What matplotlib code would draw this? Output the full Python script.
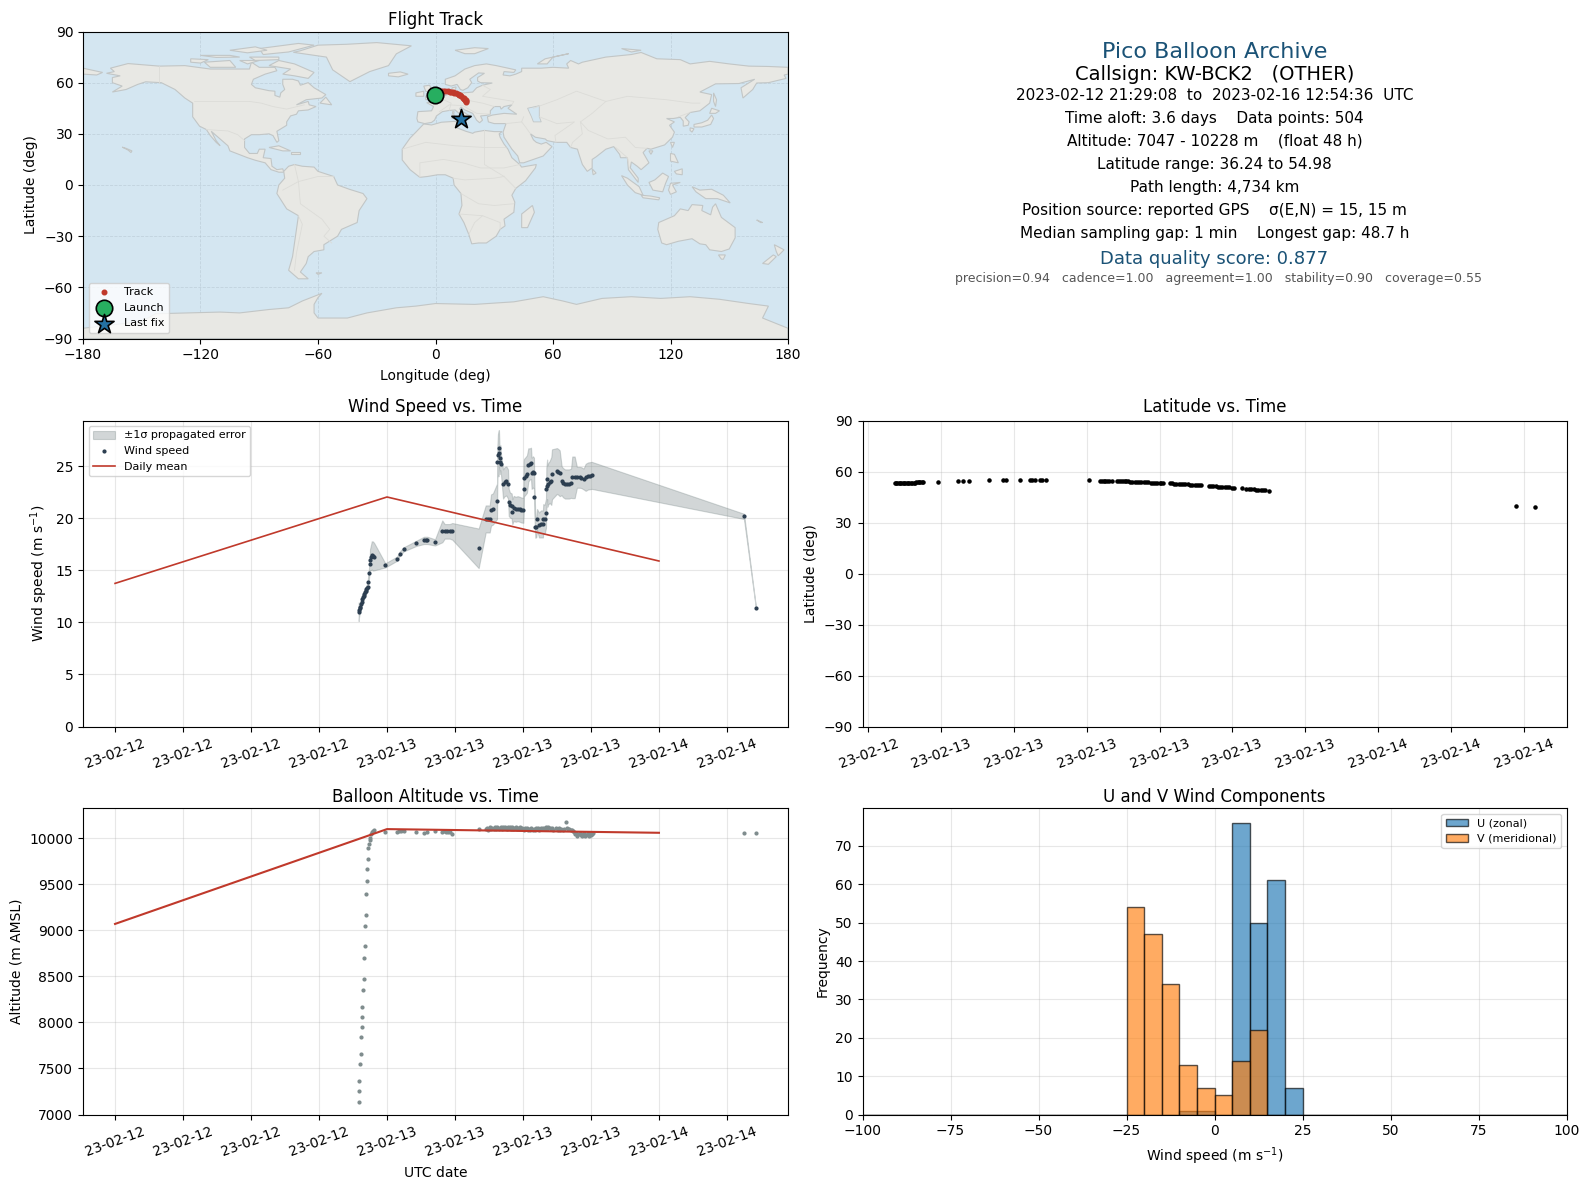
#Pico balloon flight summary: map, text panel, wind, latitude, altitude, histogram
from datetime import datetime

import matplotlib
matplotlib.use("Agg")
import matplotlib.dates as mdates
import matplotlib.pyplot as plt
import numpy as np

#---- DATA -------------------------------------------------------------------
#all times are hours after 2023-02-13 00:00 UTC
wind_hours = [-2.5, -2.47, -2.41, -2.35, -2.29, -2.24, -2.21, -2.12, -2.06, -2.0, -1.94, -1.88, -1.82, -1.76, -1.71,
              -1.68, -1.59, -1.52, -1.5, -1.38, -1.35, -1.24, -1.12, -0.15, 0.88, 1.12, 1.47, 2.59, 3.26, 3.41, 3.56,
              4.24, 4.88, 5.09, 5.29, 5.53, 5.76, 8.09, 8.71, 8.88, 9.06, 9.18, 9.35, 9.71, 9.74, 9.79, 9.85, 9.88,
              9.94, 10.0, 10.06, 10.24, 10.38, 10.53, 10.68, 10.74, 10.85, 11.0, 11.06, 11.18, 11.35, 11.53, 11.71,
              11.85, 12.03, 12.06, 12.09, 12.24, 12.35, 12.47, 12.59, 12.71, 12.76, 12.88, 12.97, 13.0, 13.09, 13.18,
              13.24, 13.41, 13.59, 13.76, 13.79, 13.91, 14.03, 14.06, 14.13, 14.15, 14.21, 14.35, 14.5, 14.56, 15.0,
              15.12, 15.24, 15.41, 15.53, 15.71, 15.88, 16.06, 16.24, 16.35, 16.56, 16.76, 17.0, 17.15, 17.35, 17.53,
              17.74, 17.94, 18.06, 31.5, 32.56]
wind_speed = [11.03, 11.19, 11.35, 11.5, 11.73, 11.99, 12.21, 12.4, 12.53, 12.72, 12.88, 13.01, 13.17, 13.27, 13.37,
              13.85, 14.71, 15.58, 16.03, 16.31, 16.44, 16.38, 16.31, 15.48, 16.12, 16.6, 17.02, 17.6, 17.88, 17.88,
              17.88, 17.69, 18.75, 18.75, 18.75, 18.75, 18.75, 17.12, 19.94, 19.94, 19.94, 20.8, 20.9, 21.63, 25.45,
              26.09, 26.25, 26.73, 25.45, 25.83, 25.19, 23.3, 23.53, 23.59, 23.3, 21.54, 21.28, 21.19, 20.64, 20.96,
              20.87, 20.93, 20.87, 20.8, 20.77, 22.85, 23.91, 24.1, 24.26, 25.13, 25.22, 25.29, 24.33, 24.46, 24.33,
              22.02, 19.13, 19.2, 19.9, 19.36, 19.46, 19.46, 19.97, 19.9, 20.48, 22.85, 23.75, 23.11, 23.3, 23.49,
              23.59, 24.23, 24.55, 24.46, 24.33, 23.62, 23.43, 23.3, 23.3, 23.3, 23.37, 23.94, 23.94, 23.94, 23.94,
              23.91, 23.78, 23.94, 24.07, 24.1, 24.13, 20.19, 11.41]
wind_err = [0.9, 0.7, 0.5, 0.45, 0.4, 0.4, 0.4, 0.4, 0.4, 0.4, 0.4, 0.4, 0.4, 0.4, 0.4,
            0.4, 0.5, 0.6, 1.0, 1.3, 1.35, 1.4, 1.3, 0.2, 0.2, 0.2, 0.2, 0.25, 0.35, 0.35,
            0.35, 0.3, 1.05, 0.7, 0.7, 0.7, 0.8, 1.9, 1.3, 1.3, 1.3, 1.5, 1.5, 1.7, 1.5,
            2.0, 2.2, 1.75, 1.2, 1.2, 1.0, 1.4, 1.4, 1.4, 1.4, 1.3, 1.2, 1.2, 1.2, 1.2,
            1.2, 1.2, 1.2, 1.2, 1.2, 2.6, 1.8, 1.8, 1.8, 1.6, 1.5, 1.5, 1.5, 1.5, 1.5,
            1.5, 1.0, 1.0, 1.0, 1.2, 1.3, 1.3, 1.4, 1.4, 1.4, 2.0, 1.9, 2.0, 2.0, 2.0,
            2.3, 2.4, 2.2, 2.2, 2.2, 1.4, 1.4, 1.4, 1.4, 1.4, 1.4, 2.0, 2.0, 1.0, 1.0,
            1.0, 1.0, 1.3, 1.3, 1.3, 1.3, 0.25, 0.05]

daily_hours = [-24, 0, 24]
daily_wind = [13.75, 22.05, 15.9]
daily_alt = [9070, 10100, 10060]

lat_hours = [-2.57, -2.5, -2.42, -2.35, -2.27, -2.2, -2.12, -2.05, -1.97, -1.9, -1.82, -1.75, -1.67, -1.6, -1.52,
             -1.45, -1.37, -1.3, -1.22, -1.15, -1.07, -0.98, -0.17, 0.93, 1.2, 1.54, 2.6, 3.37, 3.56, 4.32, 4.87,
             5.0, 5.15, 5.4, 5.55, 5.75, 8.12, 8.72, 8.82, 8.92, 9.02, 9.12, 9.22, 9.38, 9.67, 9.77, 9.87, 9.97,
             10.07, 10.17, 10.27, 10.37, 10.5, 10.62, 10.75, 10.87, 11.0, 11.12, 11.25, 11.37, 11.5, 11.62, 11.75,
             11.87, 12.0, 12.1, 12.2, 12.55, 12.67, 12.8, 12.92, 13.05, 13.17, 13.3, 13.42, 13.55, 13.67, 13.8,
             13.92, 14.05, 14.17, 14.3, 14.7, 14.82, 14.95, 15.07, 15.2, 15.32, 15.45, 15.57, 15.7, 15.82, 15.95,
             16.1, 16.5, 16.72, 16.9, 17.03, 17.16, 17.3, 17.43, 17.55, 17.68, 17.8, 18.0, 31.59, 32.6]
lat_values = [53.1, 53.1, 53.1, 53.1, 53.1, 53.1, 53.1, 53.1, 53.1, 53.1, 53.2, 53.2, 53.2, 53.2, 53.3,
              53.4, 53.6, 53.7, 53.7, 53.7, 53.7, 53.7, 53.7, 54.3, 54.3, 54.3, 54.9, 54.9, 54.9, 54.9, 54.9,
              54.9, 54.9, 54.9, 54.9, 54.9, 54.9, 54.3, 54.3, 54.3, 54.3, 54.3, 54.3, 54.3, 54.3, 54.3, 54.3, 54.3,
              54.3, 54.2, 54.2, 54.1, 54.0, 54.0, 53.9, 53.8, 53.7, 53.7, 53.6, 53.6, 53.5, 53.4, 53.4,
              53.3, 53.2, 53.1, 53.1, 53.1, 53.0, 52.9, 52.8, 52.7, 52.6, 52.6, 52.5, 52.4, 52.3, 52.2,
              52.1, 52.0, 51.9, 51.9, 51.6, 51.6, 51.4, 51.3, 51.1, 51.0, 50.8, 50.7, 50.6, 50.6, 50.4,
              50.3, 50.3, 49.7, 49.6, 49.5, 49.5, 49.4, 49.4, 49.3, 49.3, 49.3, 48.8, 39.5, 38.9]

alt_hours = [-2.47, -2.47, -2.47, -2.38, -2.29, -2.29, -2.21, -2.21, -2.21, -2.12, -2.03, -2.03, -1.94, -1.94, -1.85,
             -1.85, -1.76, -1.76, -1.68, -1.68, -1.59, -1.5, -1.5, -1.41, -1.32, -1.24, -1.15, -0.18, 0.88, 1.06,
             1.24, 1.5, 2.56, 3.26, 3.53, 4.24, 4.85, 5.03, 5.21, 5.38, 5.56, 5.74, 8.09, 8.71, 8.82, 8.9, 9.0,
             9.1, 9.2, 9.3, 9.42, 9.52, 9.64, 9.75, 9.85, 9.95, 10.05, 10.15, 10.25, 10.35, 10.45, 10.55, 10.65,
             10.75, 10.85, 10.95, 11.05, 11.15, 11.25, 11.35, 11.45, 11.55, 11.65, 11.75, 11.85, 11.95, 12.05,
             12.15, 12.25, 12.35, 12.45, 12.55, 12.65, 12.75, 12.85, 12.95, 13.05, 13.15, 13.25, 13.35, 13.45,
             13.55, 13.65, 13.75, 13.85, 13.95, 14.05, 14.15, 14.25, 14.35, 14.45, 14.55, 14.65, 14.95, 15.05,
             15.15, 15.25, 15.35, 15.5, 15.65, 15.79, 15.9, 16.0, 16.1, 16.2, 16.3, 16.4, 16.5, 16.6, 16.7, 16.8,
             16.9, 17.0, 17.1, 17.2, 17.3, 17.4, 17.5, 17.6, 17.7, 17.8, 17.9, 18.0, 18.1, 18.2, 31.5, 32.56]
alt_values = [7141, 7250, 7359, 7544, 7652, 7837, 7946, 8054, 8163, 8348, 8467, 8696, 8826, 9043, 9163,
              9391, 9533, 9663, 9772, 9891, 9935, 9978, 10000, 10043, 10065, 10076, 10087, 10065, 10065, 10076,
              10080, 10076, 10065, 10054, 10065, 10076, 10065, 10076, 10065, 10065, 10065, 10043, 10101, 10098, 10110, 10095, 10105,
              10120, 10100, 10115, 10098, 10125, 10105, 10118, 10100, 10112, 10122, 10102, 10118, 10110, 10124, 10104, 10120,
              10108, 10125, 10105, 10118, 10100, 10115, 10122, 10102, 10112, 10105, 10118, 10100, 10112, 10095,
              10108, 10098, 10112, 10092, 10105, 10095, 10110, 10094, 10104, 10092, 10108, 10096, 10112, 10095,
              10108, 10098, 10112, 10100, 10115, 10120, 10105, 10118, 10115, 10100, 10110, 10095, 10110, 10095,
              10108, 10088, 10100, 10090, 10105, 10172, 10110, 10098, 10105, 10085, 10095, 10075, 10065, 10045, 10055, 10030,
              10050, 10060, 10035, 10025, 10050, 10060, 10020, 10040, 10055, 10030, 10060, 10035, 10050, 10060, 10054, 10054]

#histogram counts per 5 m/s bin
bin_edges = list(range(-100, 105, 5))
u_bins = [-7.5, -2.5, 2.5, 7.5, 12.5, 17.5, 22.5]
u_counts = [1, 1, 0, 76, 50, 61, 7]
v_bins = [-22.5, -17.5, -12.5, -7.5, -2.5, 2.5, 7.5, 12.5]
v_counts = [54, 47, 34, 13, 7, 5, 14, 22]

track_lon = [2.0, 3.0, 3.8, 5.0, 6.2, 7.3, 8.1, 8.9, 9.7, 10.5, 11.3, 11.9, 12.6, 13.2, 13.9, 14.3, 14.7, 15.1, 15.4, 15.6, 15.8]
track_lat = [55.2, 55.1, 55.1, 55.0, 54.9, 54.8, 54.7, 54.5, 54.2, 53.8, 53.3, 53.0, 52.5, 51.9, 51.2, 50.8, 50.4, 50.0, 49.6, 49.2, 48.8]
launch_lon, launch_lat = -0.4, 53.0
last_lon, last_lat = 13.2, 38.9

#land polygons (lon, lat)
north_america = [(-168, 65.5), (-164, 66.5), (-166, 68.5), (-157, 71.2), (-141, 69.7), (-128, 70), (-115, 68), (-108, 68),
                 (-95, 68), (-94, 72), (-90, 69), (-82, 69), (-81, 67), (-87, 65), (-93, 62), (-94, 59), (-92, 57), (-85, 55.3),
                 (-82, 55), (-82, 52.5), (-79.5, 51.5), (-79, 54), (-77, 56), (-78, 59), (-78, 62), (-73, 62), (-70, 61),
                 (-69, 58.5), (-65, 60), (-62, 57), (-56, 53), (-58, 51), (-66, 50), (-71, 47), (-65, 49), (-64.5, 47),
                 (-61, 46), (-65, 44), (-70, 43.5), (-71, 41.5), (-74, 40.5), (-76, 37), (-76, 35), (-81, 31.5), (-80, 26),
                 (-81, 25), (-83, 29), (-85, 30), (-90, 29.5), (-94, 29.5), (-97.5, 27), (-97.5, 22), (-95, 18.5), (-91, 18.5),
                 (-90, 21), (-87, 21), (-88, 16), (-84, 15.5), (-83.5, 11), (-81, 9), (-78, 9.5), (-77.5, 7.5), (-80, 7.5),
                 (-84, 9), (-87, 13), (-92, 14.5), (-96, 16), (-105, 20), (-106, 23), (-112, 29), (-114.5, 31.5), (-112, 26),
                 (-110, 23), (-112, 25), (-115, 29), (-117, 32.5), (-120.5, 34.5), (-124, 40), (-124, 48), (-128, 51),
                 (-133, 56), (-140, 60), (-148, 60.5), (-152, 59), (-158, 56), (-165, 54.5), (-160, 58), (-165, 60),
                 (-165, 63), (-161, 64), (-168, 65.5)]
south_america = [(-77.5, 8), (-75, 11), (-72, 12), (-68, 11), (-62, 10.5), (-60, 8), (-52, 5), (-50, 0), (-44, -2.5), (-37, -5),
                 (-35, -8), (-39, -15), (-40, -22), (-48, -26), (-50, -30), (-57, -35), (-57, -38), (-62, -39), (-65, -42),
                 (-66, -46), (-69, -51), (-65, -55), (-70, -55), (-75, -50), (-73, -42), (-71.5, -30), (-70, -18), (-76, -14),
                 (-81, -5), (-80, 0), (-77, 4), (-77.5, 8)]
africa = [(-6, 35.8), (-10, 31), (-13, 27.5), (-17, 21), (-17, 14.7), (-13, 9), (-8, 4.5), (-4, 5), (1, 6), (5, 6), (9, 4), (9.5, 0),
          (13, -5), (13.5, -12), (12, -17), (14.5, -22), (17, -29), (18.5, -34.5), (22, -34), (26, -34), (31, -30), (33, -26),
          (35.5, -24), (35, -20), (40, -16), (40.5, -10), (39, -6), (41, -2), (46, 2.5), (51, 10), (51.5, 12), (44, 10.5), (43, 12),
          (39, 16), (37, 21), (35, 24), (33, 28), (32.5, 30), (34, 31.3), (30, 31.3), (25, 32), (20, 31), (19, 30.3), (15.5, 31.5),
          (11, 33.5), (11, 37), (9.5, 37.3), (3, 36.8), (-2, 35.2), (-6, 35.8)]
eurasia = [(-9, 37), (-9.5, 39), (-9, 43), (-2, 43.5), (-1, 46), (-4.5, 48.3), (-1.5, 48.7), (1.5, 50.5), (4, 52), (8, 54), (8.5, 57),
           (10.5, 57.5), (10, 54.5), (14, 54), (19, 54.5), (21, 57), (24, 58.5), (29, 59.8), (23, 60), (21.5, 61), (21.5, 63), (25, 65.5),
           (22, 65.7), (17.5, 62), (18.5, 60), (16.5, 57), (14, 55.5), (12.7, 56), (11, 59), (8, 58), (5, 59), (5, 62), (10, 64), (15, 68),
           (20, 70), (26, 71), (31, 70), (41, 67.5), (40, 66), (35, 66.5), (34.5, 64.5), (38, 64), (41, 65), (44, 66.5), (44, 68.5), (54, 68.5),
           (60, 69), (68, 68.5), (67, 71), (69, 73), (73, 71), (75, 72), (81, 73.5), (87, 75), (100, 76.5), (105, 77.7), (113, 74), (125, 73.5),
           (130, 71), (140, 72.5), (150, 71), (160, 69.7), (170, 69.5), (180, 69), (180, 65), (178, 64.5), (179, 62.5), (170, 60), (164, 59.8),
           (162, 56), (157, 51), (156, 57), (163, 62), (155, 59.5), (143, 59.3), (135, 54.5), (141, 53), (140, 48), (135, 43.5), (130, 42.5),
           (127.5, 39.5), (129.5, 37), (129, 35), (126.5, 34.5), (126.5, 37.5), (125, 39.7), (121.5, 39), (118, 39), (122, 37), (119.5, 35),
           (122, 31), (121, 28), (117, 23.5), (110, 21), (108, 21.5), (106, 19), (109, 13), (105, 9), (103, 11), (100, 13.5), (99.5, 10),
           (103.5, 4), (103.5, 1.5), (100.5, 6), (98.5, 9), (98, 16), (94.5, 16), (94, 18), (91, 22.5), (87, 21), (82, 16.5), (80, 15), (80, 10),
           (77.5, 8), (75, 12), (73, 19), (72.5, 21), (69, 22), (67, 25), (61.5, 25), (57, 26), (56, 27), (51, 28), (48.5, 30), (50, 26.5),
           (51.5, 25), (54, 24), (56.5, 25), (59.5, 22.5), (55, 17), (45, 13), (43, 13), (42, 17), (39, 21), (35, 28), (34.5, 31), (36, 36),
           (33, 36), (30, 36), (27, 37), (26.5, 40), (29, 41), (35, 42), (41.5, 41.5), (37, 45), (39, 47), (35, 46), (33.5, 44.5), (33, 46),
           (30, 46), (28, 43.5), (28, 41.5), (26, 40.8), (23, 40.5), (24, 38), (22.5, 36.5), (21, 38), (19.5, 41), (19, 42), (15, 44), (13, 45.7),
           (12.3, 44.5), (16, 41.5), (18.5, 40), (16.5, 39.5), (16, 38), (15.5, 40), (12, 42), (10, 44), (7, 43.7), (3.5, 43), (0.5, 40.5),
           (-0.5, 38), (-2, 36.7), (-5.5, 36), (-9, 37)]
australia = [(114, -22), (113.5, -26), (115.5, -34), (118, -35), (124, -33), (131, -31.5), (135, -34.5), (138, -35), (140, -38), (146, -39),
             (150, -37.5), (153, -31), (153, -25), (146, -19), (143, -11), (141.5, -13), (140.5, -17.5), (136, -15), (136.5, -12), (131, -11.5),
             (129, -15), (125, -14), (122, -18), (114, -22)]
greenland = [(-72.6, 77.8), (-69.3, 78.6), (-60, 82), (-45.5, 82.5), (-30, 83.5), (-12.3, 81.6), (-20, 76.9), (-24, 70), (-33.6, 66.5),
             (-43.7, 60.6), (-52.5, 67.5), (-55.7, 75), (-72.6, 77.8)]
antarctica = [(-180, -84), (-150, -80), (-143, -75.5), (-110, -74.5), (-100, -75), (-85, -73), (-75, -72), (-68, -68), (-58, -63.5), (-60, -66),
              (-62, -70), (-62, -75), (-60, -78), (-45, -78), (-35, -75), (-20, -72), (-10, -71), (0, -69.5), (20, -70), (40, -68.5), (55, -65.5),
              (65, -68), (72, -70), (85, -66.5), (100, -65.5), (115, -66.5), (130, -65.5), (145, -67), (160, -69.5), (170, -71), (167, -78),
              (180, -84), (180, -90), (-180, -90)]
islands = [
    [(-80, 73), (-72, 71), (-62, 66), (-65, 62.5), (-72, 64), (-78, 65), (-74, 68), (-85, 70), (-80, 73)],  #Baffin
    [(-118, 72), (-105, 73), (-102, 69), (-115, 69), (-118, 72)],  #Victoria
    [(-125, 74), (-116, 73.5), (-120, 71.5), (-125, 72), (-125, 74)],  #Banks
    [(-90, 80), (-70, 83), (-62, 82), (-75, 78), (-88, 76.5), (-90, 80)],  #Ellesmere
    [(-120, 76), (-105, 76), (-100, 75), (-112, 74.8), (-120, 76)],
    [(-95, 75), (-80, 75), (-80, 73.5), (-92, 73), (-95, 75)],
    [(-100, 73), (-90, 73), (-96, 71), (-100, 73)],
    [(-105, 79), (-92, 81), (-86, 79), (-96, 77.5), (-105, 79)],
    [(-59, 48), (-56, 51.5), (-53, 47), (-59, 48)],  #Newfoundland
    [(-85, 22), (-80, 23), (-74, 20), (-78, 20), (-85, 22)],  #Cuba
    [(-74, 19.5), (-69, 19.5), (-69, 18), (-74, 18), (-74, 19.5)],
    [(-160, 22.2), (-158, 21.5), (-155, 20), (-155.5, 19), (-157, 20.5), (-160, 22.2)],  #Hawaii
    [(-24, 65.5), (-18, 66.3), (-14, 65), (-19, 63.4), (-24, 64), (-24, 65.5)],  #Iceland
    [(-5, 50), (1, 51), (1, 53), (-2, 56), (-3, 58.5), (-6, 58), (-5, 55), (-3, 54), (-5, 52), (-5, 50)],  #Britain
    [(-10, 52), (-6, 52), (-6, 55), (-10, 54), (-10, 52)],  #Ireland
    [(10, 79), (20, 80.5), (27, 80), (20, 77), (15, 77), (10, 79)],  #Svalbard
    [(52, 71), (56, 74), (68, 77), (60, 75), (57, 71), (52, 71)],  #Novaya Zemlya
    [(95, 80), (105, 79), (100, 78), (95, 80)],
    [(-180, 68.5), (-170, 66), (-173, 64.5), (-180, 65), (-180, 68.5)],  #Chukotka over the date line
    [(142, 54), (143.5, 50), (143, 46), (142, 49), (142, 54)],  #Sakhalin
    [(141, 45), (145, 43.5), (143, 42), (140, 42), (141, 45)],  #Hokkaido
    [(141, 41), (142, 39), (140.5, 35.5), (136, 34), (132, 34), (132, 35.5), (136, 36.5), (139, 38), (141, 41)],  #Honshu
    [(130, 33.5), (132, 33), (131, 31), (130, 32), (130, 33.5)],
    [(120, 25), (122, 25), (121, 22), (120, 25)],  #Taiwan
    [(109, 20), (111, 20), (110, 18), (109, 20)],
    [(80, 9.5), (82, 7), (80.5, 6), (80, 9.5)],  #Sri Lanka
    [(49.5, -12), (50.5, -16), (47, -25), (44, -25), (44, -17), (49.5, -12)],  #Madagascar
    [(95, 5.5), (98, 4), (104, -1), (106, -6), (102, -4.5), (98, 0), (95, 5.5)],  #Sumatra
    [(105, -6), (110, -6.5), (114.5, -7.5), (114, -8.7), (106, -7.5), (105, -6)],  #Java
    [(109, 1.5), (112, 3), (116, 7), (119, 5), (117.5, 1), (116, -4), (111, -3), (109, 1.5)],  #Borneo
    [(120, 1), (125, 1.5), (121, 0), (123, -4), (120, -5.5), (119, -3), (120, 1)],  #Sulawesi
    [(131, -1), (135, -3), (141, -2.5), (147, -6), (150.5, -10.5), (144, -8), (138, -8), (133, -4), (131, -1)],  #New Guinea
    [(120, 18.5), (122, 18), (124, 13), (120, 14), (120, 18.5)],  #Luzon
    [(122, 8), (126, 9.5), (126, 6), (123, 6.5), (122, 8)],
    [(144.5, -41), (148, -41), (147, -43.5), (146, -43.5), (144.5, -41)],  #Tasmania
    [(173, -35), (178, -38), (175, -41.5), (174, -39), (173, -35)],
    [(172.5, -41), (174, -42), (170, -46.5), (167, -46), (172.5, -41)],
    [(164, -20.5), (167, -22), (166, -22), (164, -20.5)],
    [(-61, -51.5), (-58, -51.5), (-60, -52.4), (-61, -51.5)],  #Falkland
    [(12.5, 38), (15.5, 38), (15, 36.7), (12.5, 38)],
    [(8.3, 41), (9.7, 41), (9.5, 39), (8.5, 39), (8.3, 41)],
    [(8.7, 43), (9.5, 43), (9.3, 41.5), (8.7, 42), (8.7, 43)],
]
#inland water painted on top of the land
lakes = [
    [(47, 45), (53, 46.5), (53, 40), (54, 37), (50, 37), (49, 40), (47, 45)],  #Caspian
]
#a few thin political borders
borders = [
    [(-123, 49), (-95, 49), (-89, 48), (-83, 46), (-76, 44.5), (-67, 47)],
    [(-141, 69.7), (-141, 60)],
    [(-117, 32.5), (-106, 31.7), (-101, 29.5), (-97.5, 26)],
    [(-72, 12), (-70, 2), (-69, -11), (-58, -20), (-54, -26), (-57, -30), (-53, -34)],
    [(-52, 5), (-60, 5), (-70, 2), (-78, -3)],
    [(-70, -18), (-68, -23), (-71, -40), (-72, -50)],
    [(-17, 21), (-5, 25), (10, 23), (25, 22), (36, 22)],
    [(25, 32), (25, 12), (35, 5), (41, -2)],
    [(-8, 4.5), (-8, 13), (4, 15), (14, 13), (23, 10), (35, 10), (43, 12)],
    [(9, 4), (15, 3), (30, 4), (35, 5)],
    [(13, -5), (22, -11), (30, -12), (40, -11)],
    [(12, -17), (24, -18), (33, -22), (33, -26)],
    [(17, -29), (20, -22), (24, -18)],
    [(2, 51), (8, 48), (7, 43.7)],
    [(14, 54), (15, 50), (24, 48), (30, 46)],
    [(28, 41.5), (21, 42), (14, 46.5), (7, 47), (2, 43)],
    [(24, 58.5), (28, 56), (24, 52), (40, 49), (39, 47)],
    [(50, 45), (62, 50), (72, 55), (87, 49), (98, 52), (118, 50), (131, 48), (135, 48)],
    [(87, 49), (80, 42), (74, 37), (78, 32), (88, 27), (97, 28), (102, 22), (108, 21.5)],
    [(53, 40), (62, 36), (71, 37), (61, 29), (61.5, 25)],
    [(74, 37), (75, 30), (70, 25), (69, 22)],
    [(44, 37), (46, 34), (48.5, 30)],
    [(36, 36), (44, 37), (45, 40)],
    [(92, 22), (98, 16), (99, 10)],
    [(130, 42.5), (124, 40)],
]

title_lines = [
    ("Pico Balloon Archive", 16, "#1a5276", 1215, 51.5),
    ("Callsign: KW-BCK2   (OTHER)", 14, "black", 1215, 74.5),
    ("2023-02-12 21:29:08  to  2023-02-16 12:54:36  UTC", 11, "black", 1215, 95.5),
    ("Time aloft: 3.6 days    Data points: 504", 11, "black", 1214.5, 118.5),
    ("Altitude: 7047 - 10228 m    (float 48 h)", 11, "black", 1214.5, 141),
    ("Latitude range: 36.24 to 54.98", 11, "black", 1214.5, 164.5),
    ("Path length: 4,734 km", 11, "black", 1215, 187.5),
    ("Position source: reported GPS    \u03c3(E,N) = 15, 15 m", 11, "black", 1214, 210.5),
    ("Median sampling gap: 1 min    Longest gap: 48.7 h", 11, "black", 1215, 233.5),
    ("Data quality score: 0.877", 13, "#1a5276", 1214.5, 258.5),
    ("precision=0.94   cadence=1.00   agreement=1.00   stability=0.90   coverage=0.55", 9, "#555555", 1218.5, 278.5),
]

#---- COLOURS ----------------------------------------------------------------
NAVY = "#2c3e50"
RED = "#c0392b"
GREY = "#7f8c8d"
OCEAN = "#d4e6f1"
W, H = 1589, 1189


def make_axes(left, top, right, bottom):
    #axes from pixel edges of the picture
    ax = fig.add_axes([left / W, 1 - bottom / H, (right - left) / W, (bottom - top) / H])
    ax.grid(True, color="#b0b0b0", alpha=0.3, linewidth=0.8)
    ax.set_axisbelow(True)
    return ax


def to_dates(hours):
    base = mdates.date2num(datetime(2023, 2, 13))
    return base + np.asarray(hours, dtype=float) / 24


def format_time_axis(ax, step):
    ax.xaxis.set_major_locator(mdates.HourLocator(byhour=range(0, 24, step)))
    ax.xaxis.set_major_formatter(mdates.DateFormatter("%y-%m-%d"))
    ax.tick_params(axis="x", labelrotation=20)


fig = plt.figure(figsize=(W / 100, H / 100), dpi=100)

#---- MAP --------------------------------------------------------------------
ax_map = make_axes(83, 31.5, 788, 338.5)
ax_map.set_facecolor(OCEAN)
land = [north_america, south_america, africa, eurasia, australia, greenland, antarctica] + islands
for poly in land:
    xs, ys = zip(*poly)
    ax_map.fill(xs, ys, facecolor="#e8e8e4", edgecolor="#c2c6c6", linewidth=0.8, zorder=1)
for poly in lakes:
    xs, ys = zip(*poly)
    ax_map.fill(xs, ys, facecolor=OCEAN, edgecolor="#c2c6c6", linewidth=0.6, zorder=1.1)
for line in borders:
    xs, ys = zip(*line)
    ax_map.plot(xs, ys, color="#dcdcd8", linewidth=0.6, zorder=1.2)
ax_map.grid(True, color="#8a9aa5", alpha=0.25, linewidth=0.6, linestyle="--", zorder=2)
ax_map.scatter(track_lon, track_lat, s=11, color=RED, zorder=3, label="Track")
ax_map.scatter([launch_lon], [launch_lat], s=140, color="#27ae60", edgecolor="black", linewidth=1.2, zorder=4, label="Launch")
ax_map.scatter([last_lon], [last_lat], s=210, marker="*", color="#2471a3", edgecolor="black", linewidth=1.2, zorder=5, label="Last fix")
ax_map.set_xlim(-180, 180)
ax_map.set_ylim(-90, 90)
ax_map.set_xticks(range(-180, 181, 60))
ax_map.set_yticks(range(-90, 91, 30))
ax_map.set_xlabel("Longitude (deg)", labelpad=5)
ax_map.set_ylabel("Latitude (deg)")
ax_map.set_title("Flight Track", fontsize=12, pad=5)
ax_map.legend(loc="lower left", fontsize=8)

#---- TEXT PANEL -------------------------------------------------------------
for text, size, color, x, y in title_lines:
    fig.text(x / W, 1 - y / H, text, fontsize=size, color=color, ha="center", va="center")

#---- WIND -------------------------------------------------------------------
ax_wind = make_axes(83, 420.5, 788, 726.5)
t_wind = to_dates(wind_hours)
speed = np.array(wind_speed)
err = np.array(wind_err)
ax_wind.fill_between(t_wind, speed - err, speed + err, color=GREY, linewidth=0.8, alpha=0.35, label="\u00b11\u03c3 propagated error")
ax_wind.scatter(t_wind, speed, s=4, color=NAVY, label="Wind speed", zorder=3)
ax_wind.plot(to_dates(daily_hours), daily_wind, color=RED, linewidth=1.2, label="Daily mean", zorder=4)
ax_wind.set_ylim(0, 29.4)
format_time_axis(ax_wind, 6)
ax_wind.set_ylabel("Wind speed (m s$^{-1}$)")
ax_wind.set_title("Wind Speed vs. Time", fontsize=12)
ax_wind.legend(loc="upper left", fontsize=8)

#---- LATITUDE ---------------------------------------------------------------
ax_lat = make_axes(862.5, 420.5, 1566.5, 726.5)
ax_lat.scatter(to_dates(lat_hours), lat_values, s=5, color="black", zorder=3)
ax_lat.set_ylim(-90, 90)
ax_lat.set_yticks(range(-90, 91, 30))
format_time_axis(ax_lat, 4)
ax_lat.set_ylabel("Latitude (deg)")
ax_lat.set_title("Latitude vs. Time", fontsize=12)

#---- ALTITUDE ---------------------------------------------------------------
ax_alt = make_axes(83, 808.3, 788, 1114.5)
ax_alt.scatter(to_dates(alt_hours), alt_values, s=4, color=GREY, zorder=3)
ax_alt.plot(to_dates(daily_hours), daily_alt, color=RED, linewidth=1.5, zorder=4)
ax_alt.set_ylim(7000, 10326)
format_time_axis(ax_alt, 6)
ax_alt.set_xlabel("UTC date", labelpad=5)
ax_alt.set_ylabel("Altitude (m AMSL)")
ax_alt.set_title("Balloon Altitude vs. Time", fontsize=12, pad=4.5)

#---- HISTOGRAM --------------------------------------------------------------
ax_hist = make_axes(862.5, 808.3, 1566.5, 1114.5)
ax_hist.hist(u_bins, bins=bin_edges, weights=u_counts, color="#1f77b4", alpha=0.65, edgecolor="black", label="U (zonal)")
ax_hist.hist(v_bins, bins=bin_edges, weights=v_counts, color="#ff7f0e", alpha=0.65, edgecolor="black", label="V (meridional)")
ax_hist.set_xlim(-100, 100)
ax_hist.set_xticks(range(-100, 101, 25))
ax_hist.set_xlabel("Wind speed (m s$^{-1}$)", labelpad=5)
ax_hist.set_ylabel("Frequency")
ax_hist.set_title("U and V Wind Components", fontsize=12, pad=4.5)
ax_hist.legend(loc="upper right", fontsize=8)

fig.savefig("out.png", dpi=100)
